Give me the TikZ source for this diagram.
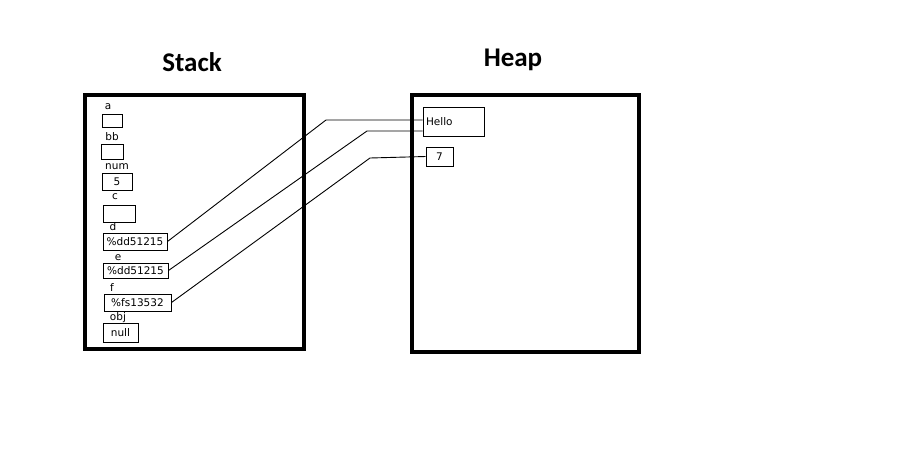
\documentclass[tikz,border=0pt]{standalone}
\usepackage{fontspec}
\setmainfont{DejaVu Sans}
\newfontfamily\titlefont{Carlito}
\begin{document}
\begin{tikzpicture}%
	[x=1pt, y=-1pt,
	region/.style={draw=black, line width=4pt},
	title/.style={font=\titlefont\bfseries\fontsize{27}{30}\selectfont},
	varname/.style={font=\fontsize{10.5}{12}\selectfont, inner sep=0pt},
	cell/.style={draw=black, line width=1pt, inner sep=0pt, font=\fontsize{10.5}{12}\selectfont},
	link/.style={draw=black, line width=0.9pt}]
%
\useasboundingbox (0,0) rectangle (897,461);
%%
%% Drawing the two regions
%%
\draw[region] (85,95) rectangle (304,349);
\draw[region] (412,95) rectangle (639,352);
\node[title] (stacktitle) at (192,62) {Stack};
\node[title] (heaptitle) at (513,60) {Heap};
%%
%% Drawing the stack cells
%%
\node[varname] (na) at (108,107) {a};
\node[cell, minimum width=20pt, minimum height=13pt] (va) at (112,120.5) {};
\node[varname] (nbb) at (112,137) {bb};
\node[cell, minimum width=22pt, minimum height=15pt] (vbb) at (112,151.5) {};
\node[varname] (nnum) at (117,167) {num};
\node[cell, minimum width=30pt, minimum height=17pt] (vnum) at (117,181.5) {5};
\node[varname] (nc) at (115,197) {c};
\node[cell, minimum width=32pt, minimum height=17pt] (vc) at (119,213.5) {};
\node[varname] (nd) at (113,227) {d};
\node[cell, minimum width=64pt, minimum height=17pt] (vd) at (135,241.5) {\%dd51215};
\node[varname] (ne) at (118,258) {e};
\node[cell, minimum width=65pt, minimum height=15pt] (ve) at (135.5,270.5) {\%dd51215};
\node[varname] (nf) at (112,288) {f};
\node[cell, minimum width=67pt, minimum height=17pt] (vf) at (137.5,302.5) {\%fs13532};
\node[varname] (nobj) at (118,318) {obj};
\node[cell, minimum width=35pt, minimum height=19pt] (vobj) at (120.5,332.5) {null};
%%
%% Drawing the heap cells
%%
\node[cell, minimum width=61pt, minimum height=29pt, text width=55pt, align=left, inner xsep=3pt] (vhello) at (453.5,121.5) {Hello};
\node[cell, minimum width=27pt, minimum height=19pt] (vseven) at (439.5,156.5) {7};
%%
%% Drawing the references
%%
\coordinate (bendd) at (326,120);
\coordinate (bende) at (367,131);
\coordinate (bendf) at (370,158);
\draw[link] (vd.east) -- (bendd) -- (bendd -| vhello.west);
\draw[link] (ve.east) -- (bende) -- (bende -| vhello.west);
\draw[link] (vf.east) -- (bendf) -- (vseven.west);
\end{tikzpicture}
\end{document}
